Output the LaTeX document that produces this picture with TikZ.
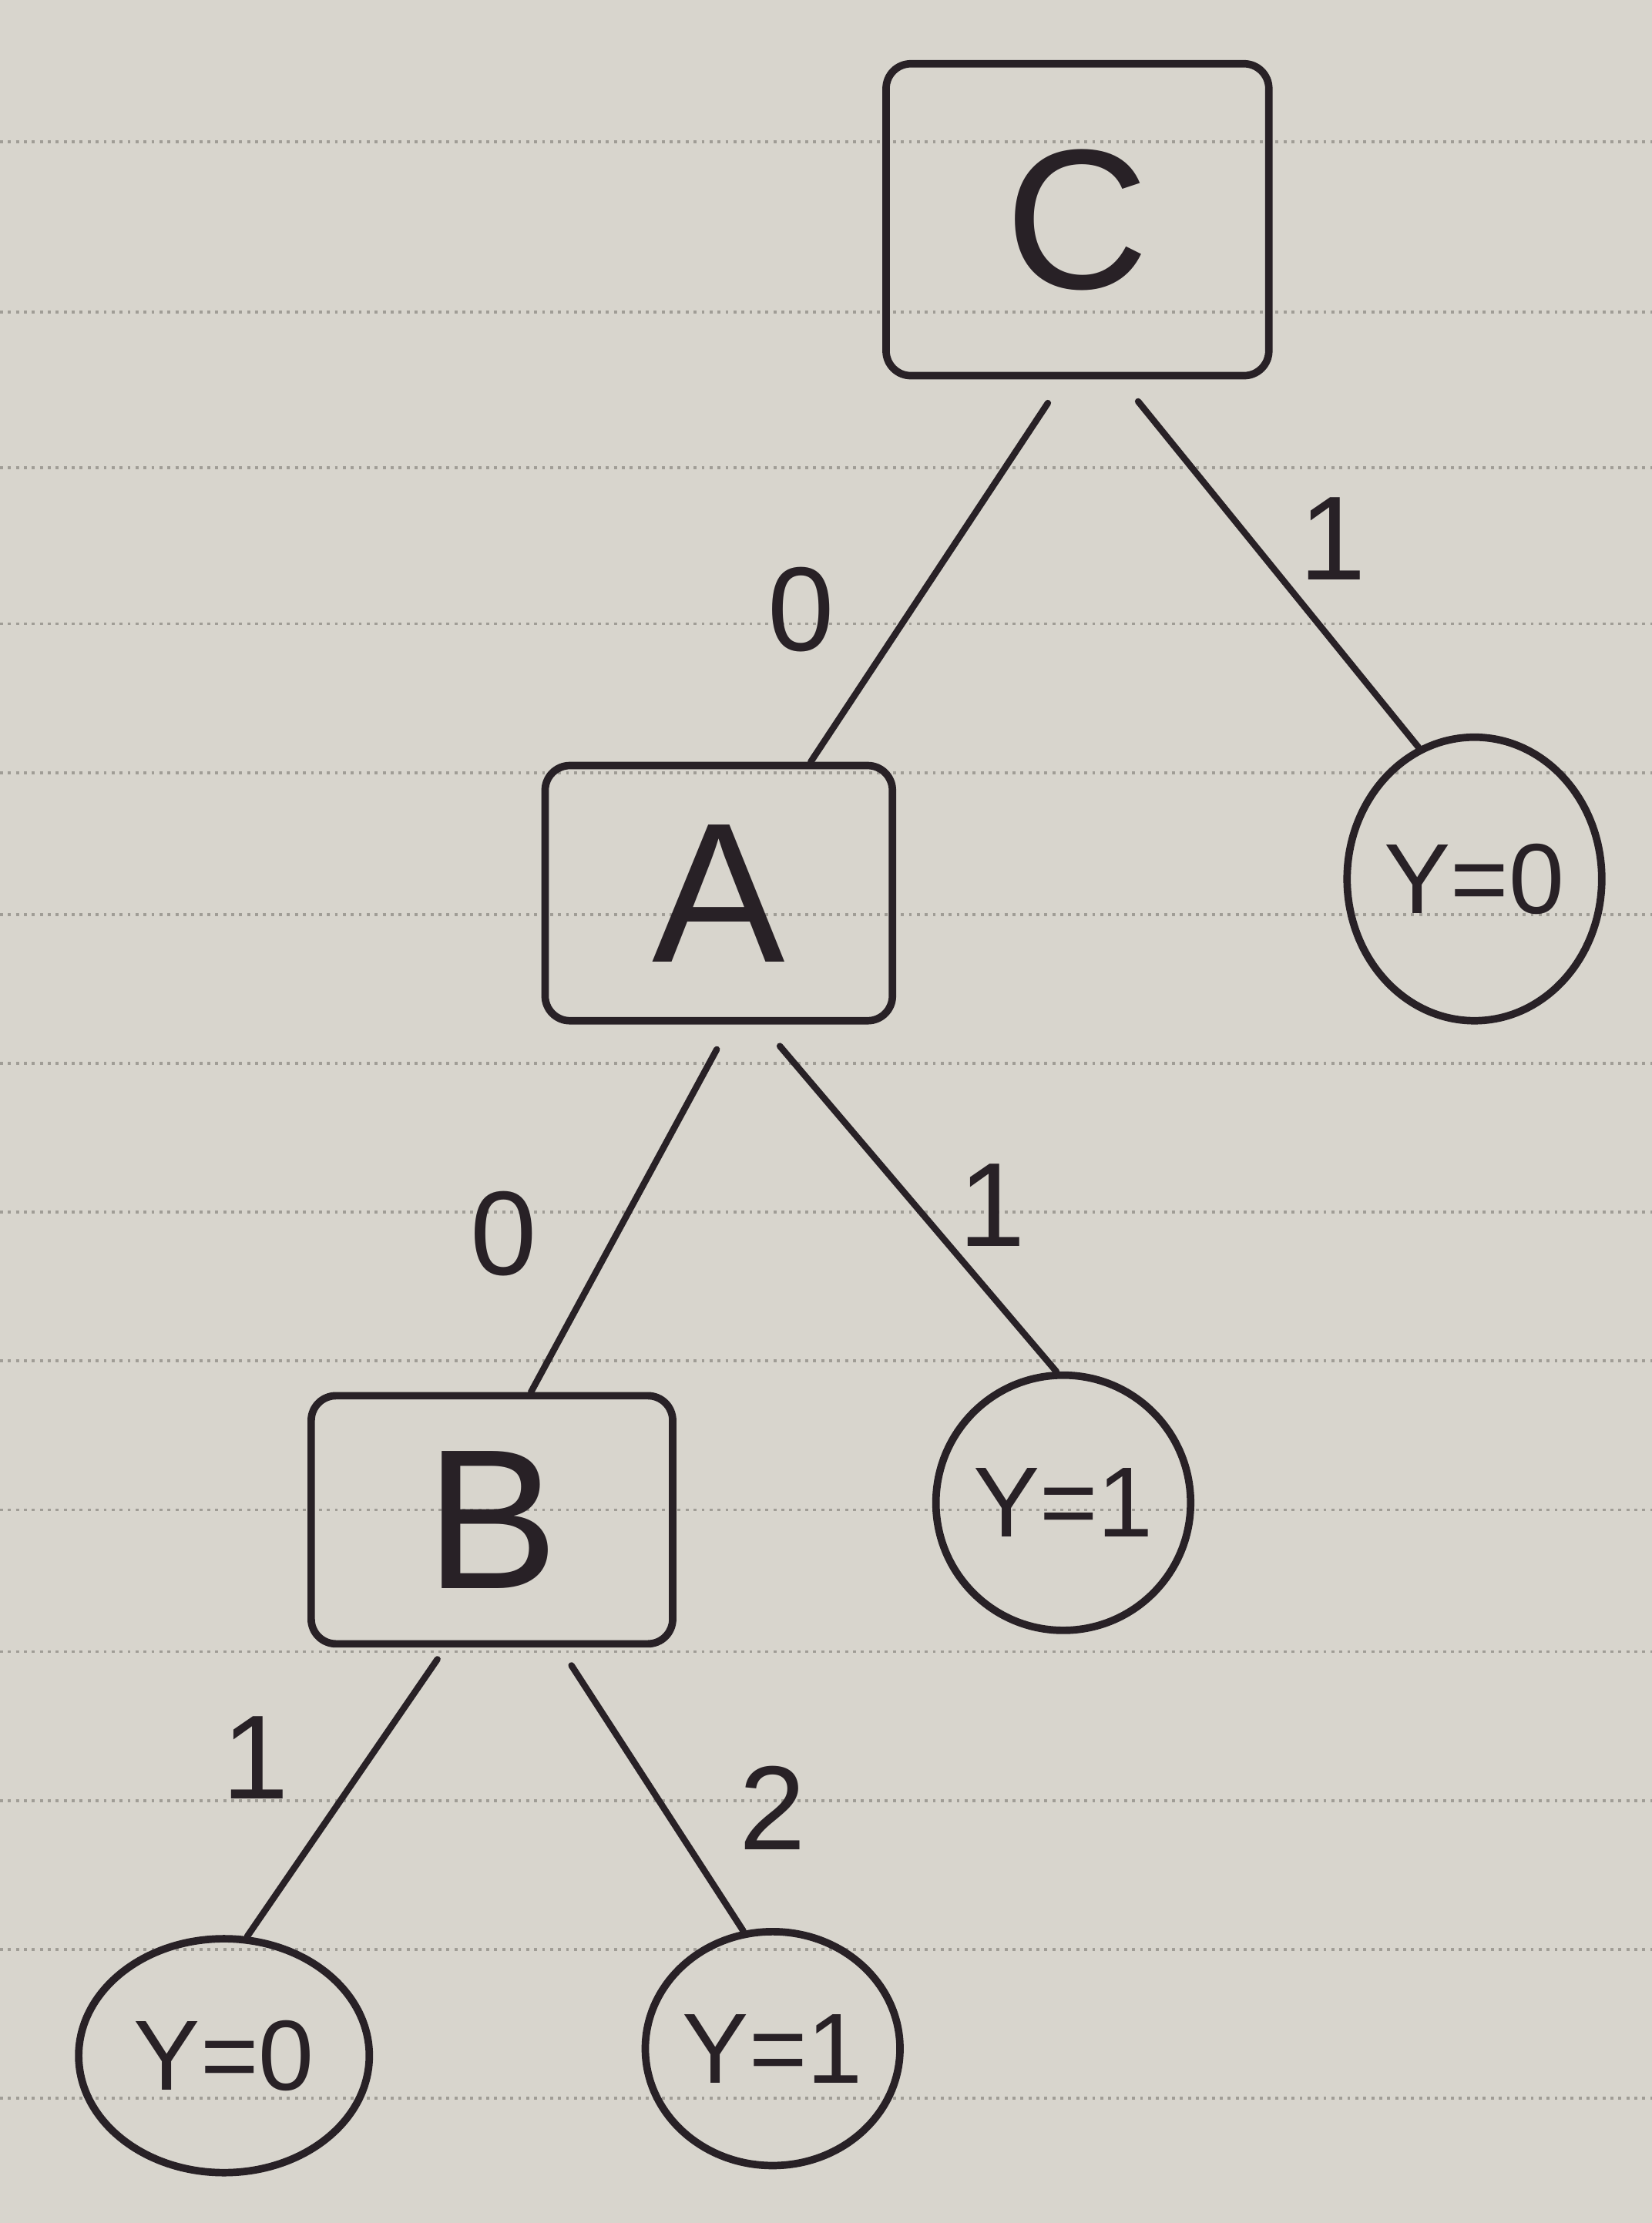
\documentclass[tikz,border=0pt]{standalone}
\usepackage{fontspec}
\setmainfont{Liberation Sans}
\usetikzlibrary{shapes.geometric}
\definecolor{paper}{RGB}{216,213,205}
\definecolor{rule}{RGB}{160,157,150}
\definecolor{ink}{RGB}{40,33,38}
\tikzset{
  split/.style={draw=ink,line width=3pt,rounded corners=0.35cm,minimum width=#1,text=ink,font=\fontsize{80}{80}\selectfont},
  leaf/.style={draw=ink,line width=3pt,ellipse,inner sep=0pt,text=ink,font=\fontsize{40}{40}\selectfont},
  branch/.style={draw=ink,line width=2.6pt,line cap=round},
  lab/.style={text=ink,font=\fontsize{48}{48}\selectfont}
}
\begin{document}
\begin{tikzpicture}
  % Paper
  \useasboundingbox (0,0) rectangle (23.3,31.36);
  \fill[paper] (0,0) rectangle (23.3,31.36);
  \foreach \y in {1.76,3.86,5.96,8.06,10.06,12.16,14.26,16.36,18.46,20.46,22.56,24.76,26.96,29.36} {
    \draw[rule,line width=1.2pt,dotted] (0,\y) -- (23.3,\y);
  }
  % Decision nodes
  \node[split=5.4cm,minimum height=4.4cm] (C) at (15.2,28.26) {C};
  \node[split=4.9cm,minimum height=3.6cm] (A) at (10.14,18.76) {A};
  \node[split=5.1cm,minimum height=3.5cm] (B) at (6.94,9.92) {B};
  % Leaves
  \node[leaf,minimum width=3.0cm,minimum height=4.0cm] (c1) at (20.8,18.96) {Y=0};
  \node[leaf,minimum width=3.3cm,minimum height=3.6cm] (a1) at (15.0,10.16) {Y=1};
  \node[leaf,minimum width=4.1cm,minimum height=3.3cm] (b1) at (3.16,2.36) {Y=0};
  \node[leaf,minimum width=3.5cm,minimum height=3.3cm] (b2) at (10.9,2.46) {Y=1};
  % Branches
  \draw[branch,shorten <=0.4cm] (C.265) -- (A.55);
  \draw[branch,shorten <=0.4cm] (C.285) -- (c1.113);
  \draw[branch,shorten <=0.4cm] (A.275) -- (B.73);
  \draw[branch,shorten <=0.4cm] (A.288) -- (a1.93);
  \draw[branch,shorten <=0.2cm] (B.250) -- (b1.79);
  \draw[branch,shorten <=0.3cm] (B.298) -- (b2.104);
  % Branch values
  \node[lab] (lca) at (11.3,22.76) {0};
  \node[lab] (lcc) at (18.8,23.76) {1};
  \node[lab] (lab) at (7.1,13.96) {0};
  \node[lab] (laa) at (14.0,14.36) {1};
  \node[lab] (lb1) at (3.6,6.56) {1};
  \node[lab] (lb2) at (10.9,5.86) {2};
\end{tikzpicture}
\end{document}
